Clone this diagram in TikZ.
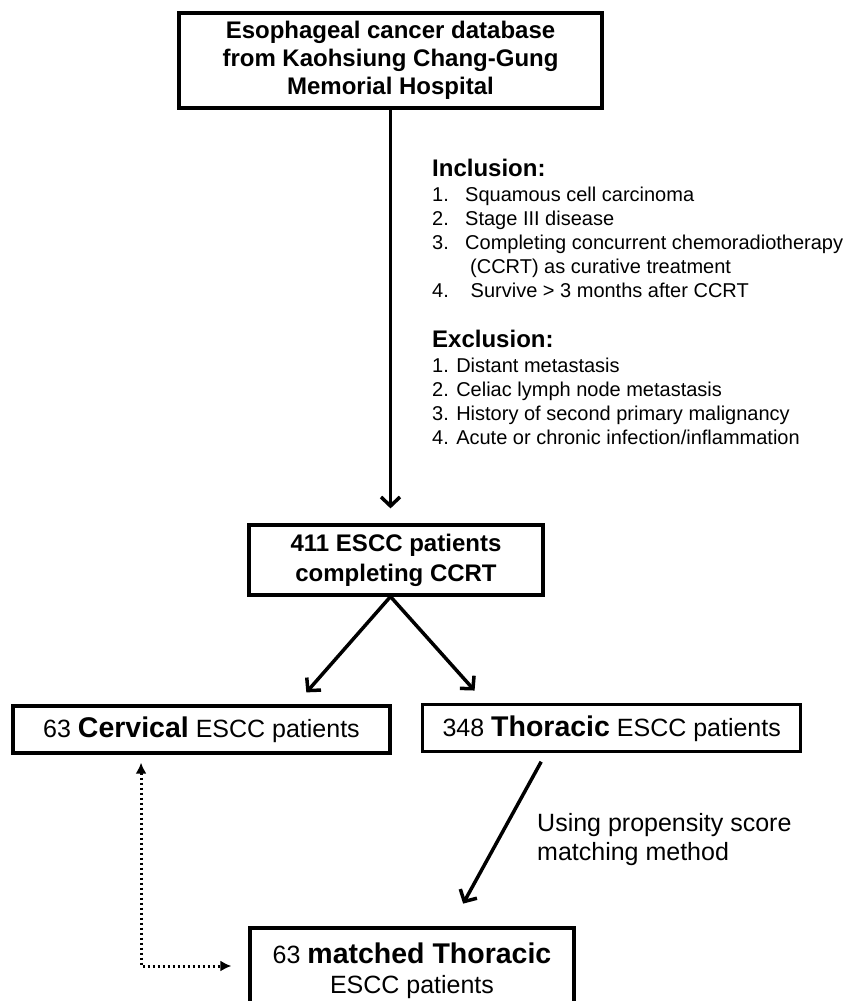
\documentclass[tikz,border=0pt]{standalone}
\usepackage{fontspec}
\setmainfont{Liberation Sans}
\usepackage{tikz}
\usetikzlibrary{positioning,calc,arrows.meta}
\newcommand{\cohortfont}{\fontsize{25}{30}\selectfont}
\newcommand{\cohortbold}[1]{{\bfseries\fontsize{28.5}{30}\selectfont #1}}

\begin{document}
\begin{tikzpicture}[
	x=1pt, y=-1pt,
	box/.style={
		rectangle,
		draw=black,
		line width=3.2pt,
		inner sep=0pt,
		align=center
	},
	flow/.style={
		-{Straight Barb[length=9pt,width=19pt]},
		line width=3.5pt
	},
	link/.style={
		{Latex[length=11pt,width=11pt]}-{Latex[length=11pt,width=11pt]},
		line width=3pt,
		dash pattern=on 2.5pt off 2.5pt
	},
	crit/.style={
		anchor=base west,
		inner sep=0pt,
		font=\fontsize{20}{24}\selectfont
	},
	crithead/.style={
		anchor=base west,
		inner sep=0pt,
		font=\bfseries\fontsize{24}{28}\selectfont
	}
	]
	
	\useasboundingbox (0,0) rectangle (845,1001);
	
	% Boxes
	\node[box, minimum width=423pt, minimum height=95pt, font=\bfseries\fontsize{24}{28}\selectfont] (db) at (390.5,60.5) {Esophageal cancer database\\from Kaohsiung Chang-Gung\\Memorial Hospital};
	\node[box, minimum width=294pt, minimum height=70pt, font=\bfseries\fontsize{24}{30}\selectfont] (pat) at (396,560) {411 ESCC patients\\completing CCRT};
	\node[box, minimum width=377pt, minimum height=47pt, font=\cohortfont] (cerv) at (201.5,729.5) {63 \cohortbold{Cervical} ESCC patients};
	\node[box, minimum width=378pt, minimum height=47pt, font=\cohortfont] (thor) at (611.7,728.3) {348 \cohortbold{Thoracic} ESCC patients};
	\node[box, minimum width=324pt, minimum height=86pt, font=\cohortfont] (match) at (412,971) {63 \cohortbold{matched Thoracic}\\ESCC patients};
	
	% Inclusion criteria
	\node[crithead] (inchead) at (432,176.5) {Inclusion:};
	\node[crit] (inc1n) at (432,201.5) {1.};
	\node[crit] (inc1) at (465,201.5) {Squamous cell carcinoma};
	\node[crit] (inc2n) at (432,225.5) {2.};
	\node[crit] (inc2) at (465,225.5) {Stage III disease};
	\node[crit] (inc3n) at (432,249.5) {3.};
	\node[crit] (inc3) at (465,249.5) {Completing concurrent chemoradiotherapy};
	\node[crit] (inc3b) at (470,273.5) {(CCRT) as curative treatment};
	\node[crit] (inc4n) at (432,297.5) {4.};
	\node[crit] (inc4) at (470.5,297.5) {Survive > 3 months after CCRT};
	
	% Exclusion criteria
	\node[crithead] (exchead) at (432,347.5) {Exclusion:};
	\node[crit] (exc1) at (432,372.5) {1. Distant metastasis};
	\node[crit] (exc2) at (432,396.5) {2. Celiac lymph node metastasis};
	\node[crit] (exc3) at (432,420.5) {3. History of second primary malignancy};
	\node[crit] (exc4) at (432,444.5) {4. Acute or chronic infection/inflammation};
	
	% Matching label
	\node[font=\fontsize{25}{29}\selectfont, align=left, anchor=north west, inner sep=0pt] (psm) at (537,813) {Using propensity score\\matching method};
	
	% Arrows
	\coordinate (split) at (db.south |- pat.south);
	\draw[flow, shorten >=15pt] (db.south) -- (db.south |- pat.north);
	\draw[flow, shorten >=16pt] (split) -- ($(cerv.north west)!0.748!(cerv.north east)$);
	\draw[flow, shorten >=17pt] (split) -- ($(thor.north west)!0.17!(thor.north east)$);
	\draw[flow, shorten <=9.5pt, shorten >=26pt] ($(thor.south west)!0.327!(thor.south east)$) -- ($(match.north west)!0.618!(match.north east)$);
	
	% Dotted comparison link
	\draw[link, shorten <=8pt, shorten >=17pt] ($(cerv.south west)!0.341!(cerv.south east)$) |- ($(match.west)+(0,-5)$);
	
\end{tikzpicture}
\end{document}
